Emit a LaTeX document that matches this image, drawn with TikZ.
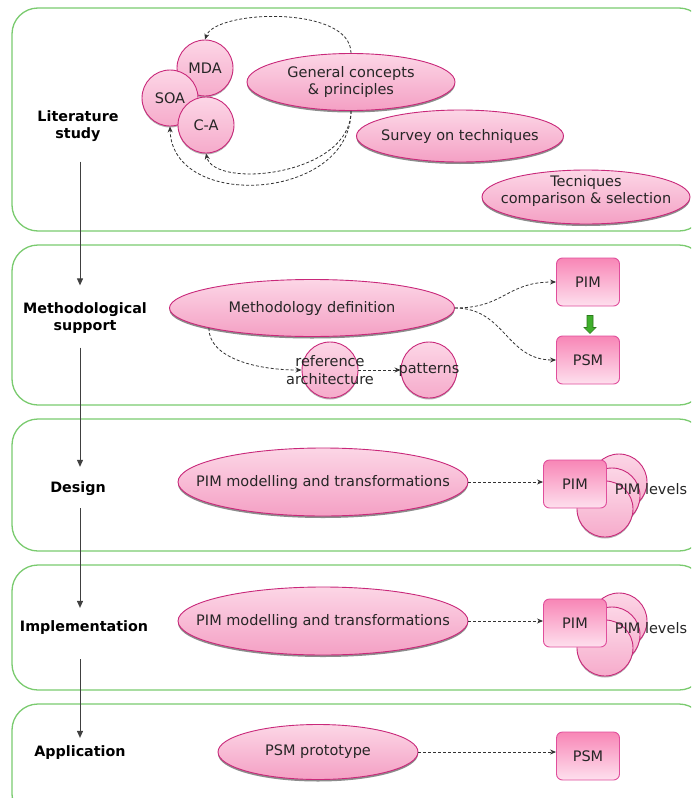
\documentclass[tikz,border=0pt]{standalone}
\usepackage{fontspec}
\setmainfont{DejaVu Sans}
\usetikzlibrary{shapes.geometric,arrows.meta,shadows}

\definecolor{framegreen}{HTML}{7ACB6F}
\definecolor{ovalline}{HTML}{C9287A}
\definecolor{ovaltop}{HTML}{FCD6E6}
\definecolor{ovalbot}{HTML}{F4A0C4}
\definecolor{boxline}{HTML}{E04E9C}
\definecolor{boxtop}{HTML}{F886B6}
\definecolor{boxbot}{HTML}{FEE0EE}
\definecolor{inktext}{HTML}{262626}
\definecolor{arrowgreen}{HTML}{3FAF2C}
\definecolor{arrowedge}{HTML}{2C7A1C}

\begin{document}
\begin{tikzpicture}[x=1pt,y=-1pt,
  font=\fontsize{14.5}{17.5}\selectfont, text=inktext,
  frame/.style={draw=framegreen, line width=1.3pt, rounded corners=26pt},
  stage/.style={font=\fontsize{14.3}{17}\selectfont\bfseries, text=black, align=center, inner sep=0pt},
  oval/.style={ellipse, draw=ovalline, line width=0.9pt, top color=ovaltop, bottom color=ovalbot,
    inner sep=-300pt, align=center,
    drop shadow={shadow xshift=0pt, shadow yshift=-2pt, fill=black, opacity=0.45}},
  disc/.style={circle, draw=ovalline, line width=0.9pt, top color=ovaltop, bottom color=ovalbot!80!ovaltop,
    minimum size=56pt, inner sep=0pt,
    drop shadow={shadow xshift=0pt, shadow yshift=-1.5pt, fill=black, opacity=0.3}},
  model/.style={draw=boxline, line width=0.9pt, rounded corners=6pt, top color=boxtop, bottom color=boxbot,
    minimum width=63pt, minimum height=48pt, inner sep=0pt},
  flow/.style={dash pattern=on 3pt off 2pt, line width=0.8pt, draw=black!80, -{Stealth[length=6pt,width=5pt]}},
  stagearrow/.style={draw=black!75, line width=1pt, -{Triangle[length=7pt,width=6pt]}},
]
\useasboundingbox (0,0) rectangle (691,798);
\clip (0,0) rectangle (691,798);
\fill[white] (0,0) rectangle (691,798);

% phase frames
\draw[frame] (12,8) rectangle (705,231);
\draw[frame] (12,245) rectangle (705,405);
\draw[frame] (12,419) rectangle (705,551);
\draw[frame] (12,565) rectangle (705,690);
\draw[frame] (12,704) rectangle (705,820);

% phase names
\node[stage] (lit) at (78,126) {Literature\\study};
\node[stage] (metho) at (85,318) {Methodological\\support};
\node[stage] (design) at (78,489) {Design};
\node[stage] (impl) at (84,628) {Implementation};
\node[stage] (app) at (80,753) {Application};

\coordinate (spine) at (80,0);
\draw[stagearrow, shorten <=20pt, shorten >=17pt] (lit.south -| spine) -- (metho.north -| spine);
\draw[stagearrow, shorten <=14pt, shorten >=15pt] (metho.south -| spine) -- (design.north -| spine);
\draw[stagearrow, shorten <=12pt, shorten >=13pt] (design.south -| spine) -- (impl.north -| spine);
\draw[stagearrow, shorten <=24pt, shorten >=8pt] (impl.south -| spine) -- (app.north -| spine);

% literature study
\node[disc] (mda) at (205,68) {MDA};
\node[disc] (soa) at (170,98) {SOA};
\node[disc] (ca) at (206,125) {C-A};
\node[oval, minimum width=208pt, minimum height=57pt] (gen) at (351,82) {General concepts\\\& principles};
\node[oval, minimum width=207pt, minimum height=52pt] (survey) at (460,136) {Survey on techniques};
\node[oval, minimum width=208pt, minimum height=54pt, text depth=15pt] (tec) at (586,197) {Tecniques\\comparison \& selection};

\draw[flow] (gen.north) .. controls +(0,-48) and +(10,-30) .. (mda.north);
\draw[flow] (gen.south) .. controls +(0,65) and +(8,36) .. (ca.south);
\draw[flow] (gen.south) .. controls +(0,90) and +(2,85) .. (soa.south);

% methodological support
\node[oval, minimum width=285pt, minimum height=57pt] (methdef) at (312,308) {Methodology definition};
\node[model] (pimA) at (588,282) {PIM};
\node[model] (psmA) at (588,360) {PSM};
\node[disc, label={[align=center]center:reference\\architecture}] (refarch) at (330,370) {};
\node[disc, label={center:patterns}] (patterns) at (429,370) {};

\draw[flow] (methdef.east) .. controls +(50,0) and +(-50,0) .. (pimA.west);
\draw[flow] (methdef.east) .. controls +(50,0) and +(-50,0) .. (psmA.west);
\draw[flow] (methdef.191) .. controls +(0,30) and +(-45,0) .. (refarch.west);
\draw[flow] (refarch) -- (patterns);
\draw[draw=arrowedge, fill=arrowgreen, line width=0.6pt]
  ([shift={(-1,9)}]pimA.south) -- ++(6,0) -- ++(0,12) -- ++(3,0) -- ++(-6,6) -- ++(-6,-6) -- ++(3,0) -- cycle;

% design
\node[oval, minimum width=290pt, minimum height=68pt] (pimmodA) at (323,482) {PIM modelling and transformations};
\node[disc] (lvA3) at (619,482) {};
\node[disc] (lvA2) at (612,496) {};
\node[disc] (lvA1) at (605,509) {};
\node[model] (pimB) at (575,484) {PIM};
\node (lvAtext) at (651,489) {PIM levels};
\draw[flow] (pimmodA.east) -- (pimmodA.east -| pimB.west);

% implementation
\node[oval, minimum width=290pt, minimum height=68pt] (pimmodB) at (323,621) {PIM modelling and transformations};
\node[disc] (lvB3) at (619,621) {};
\node[disc] (lvB2) at (612,635) {};
\node[disc] (lvB1) at (605,648) {};
\node[model] (pimC) at (575,623) {PIM};
\node (lvBtext) at (651,628) {PIM levels};
\draw[flow] (pimmodB.east) -- (pimmodB.east -| pimC.west);

% application
\node[oval, minimum width=200pt, minimum height=55pt] (proto) at (318,752) {PSM prototype};
\node[model] (psmB) at (588,756) {PSM};
\draw[flow] (proto.east) -- (proto.east -| psmB.west);
\end{tikzpicture}
\end{document}
